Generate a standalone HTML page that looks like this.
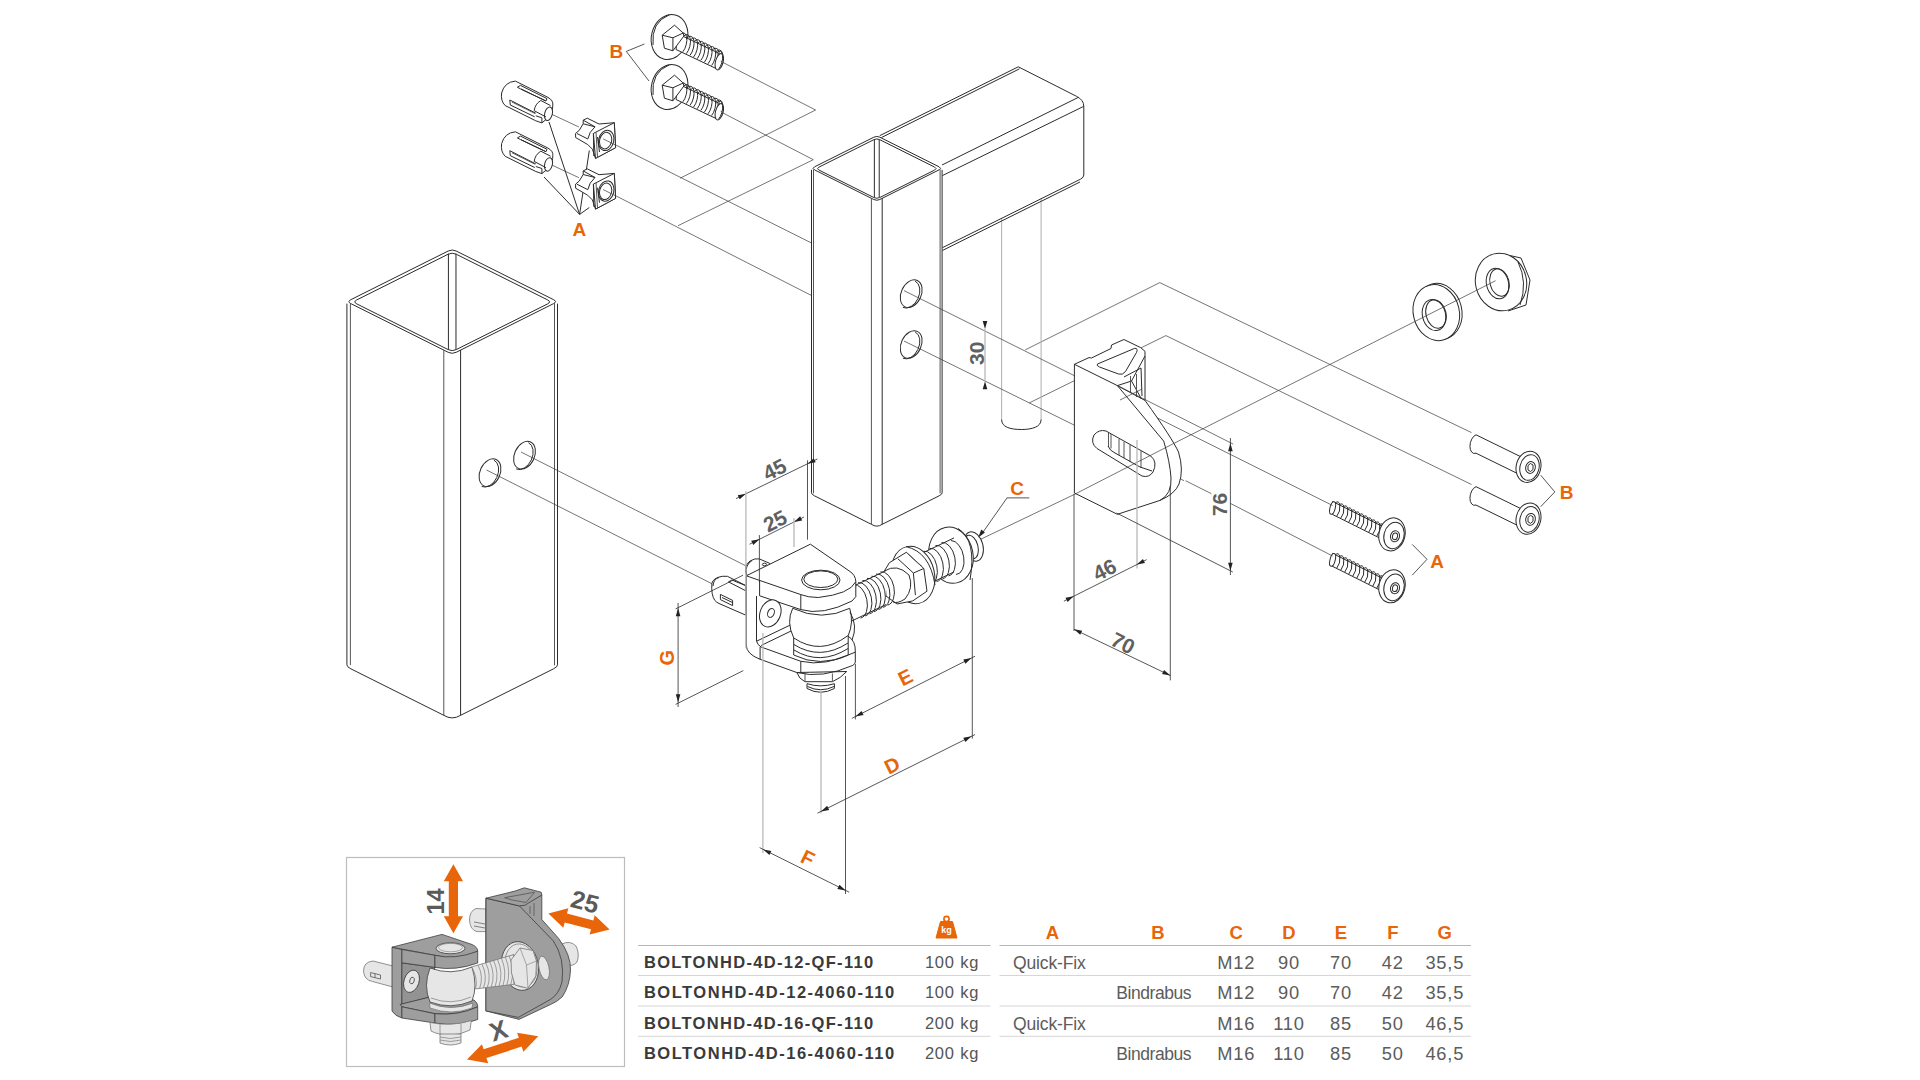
<!DOCTYPE html>
<html><head><meta charset="utf-8"><style>
html,body{margin:0;padding:0;background:#fff;width:1920px;height:1080px;overflow:hidden}
svg{display:block;font-family:"Liberation Sans",sans-serif}
.m{stroke:#2b2b2b;stroke-width:1;fill:none}
.g{stroke:#555;stroke-width:1;fill:none}
.t{stroke:#3a3a3a;stroke-width:0.7;fill:none}
.lg{stroke:#b8b8b8;stroke-width:1.3;fill:none}
.dm{stroke:#2b2b2b;stroke-width:0.8;fill:none}
.wf{fill:#fff;stroke:none}
.wf2{fill:#fff;stroke:#2b2b2b;stroke-width:1}
.wm{fill:#fff;stroke:#2b2b2b;stroke-width:1}
</style></head><body>
<svg width="1920" height="1080" viewBox="0 0 1920 1080">
<line class="t" x1="552" y1="114.4" x2="578.9" y2="127"/>
<line class="t" x1="552" y1="165.1" x2="578.9" y2="177.7"/>
<line class="t" x1="607.4" y1="140.8" x2="811.5" y2="243"/>
<line class="t" x1="607.4" y1="191.5" x2="811.5" y2="295.5"/>
<line class="t" x1="720.7" y1="61.3" x2="815.6" y2="110"/>
<line class="t" x1="815.6" y1="110" x2="680.2" y2="178.2"/>
<line class="t" x1="720.7" y1="111.8" x2="813.3" y2="159.7"/>
<line class="t" x1="813.3" y1="159.7" x2="678" y2="225.7"/>
<line class="t" x1="1074" y1="375.5" x2="1156.9" y2="417.7"/>
<line class="t" x1="1074" y1="425" x2="1184" y2="480.7"/>
<line class="t" x1="1025.2" y1="349.9" x2="1159.8" y2="282.6"/>
<line class="t" x1="1159.8" y1="282.6" x2="1471.5" y2="432.6"/>
<line class="t" x1="1029.3" y1="402.9" x2="1165.9" y2="335.6"/>
<line class="t" x1="1165.9" y1="335.6" x2="1471.5" y2="484.5"/>
<line class="t" x1="980.4" y1="539.4" x2="1074" y2="494.6"/>
<polygon class="wf" points="346.9,301.65 452.2,249 557.5,301.65 557.5,666.85 452.2,719.5 346.9,666.85"/>
<path class="m" d="M456.2,251 L553.5,299.65 Q557.5,301.65 553.5,303.65 L456.2,352.3 Q452.2,354.3 448.2,352.3 L350.9,303.65 Q346.9,301.65 350.9,299.65 L448.2,251 Q452.2,249 456.2,251 Z"/>
<path class="m" d="M456.2,254.2 L547.6,299.9 Q551.6,301.9 547.6,303.9 L456.2,349.6 Q452.2,351.6 448.2,349.6 L356.8,303.9 Q352.8,301.9 356.8,299.9 L448.2,254.2 Q452.2,252.2 456.2,254.2 Z"/>
<line class="m" x1="448.42" y1="253.7" x2="448.42" y2="349.6"/>
<line class="m" x1="455.98" y1="253.7" x2="455.98" y2="349.6"/>
<line class="g" x1="443.8" y1="350.1" x2="443.8" y2="715.3"/>
<line class="m" x1="460.6" y1="350.1" x2="460.6" y2="715.3"/>
<line class="m" x1="346.9" y1="303.65" x2="346.9" y2="664.85"/>
<line class="g" x1="350.4" y1="303.4" x2="350.4" y2="665.1"/>
<line class="m" x1="557.5" y1="303.65" x2="557.5" y2="664.85"/>
<line class="g" x1="554.5" y1="303.15" x2="554.5" y2="665.35"/>
<path class="m" d="M346.9,664.85 Q346.9,666.85 350.9,668.85 L443.8,715.3 Q452.2,720.5 460.6,715.3 L553.5,668.85 Q557.5,666.85 557.5,664.85"/>
<ellipse class="wf2" cx="490" cy="472.7" rx="10" ry="14.5" transform="rotate(25 490 472.7)"/>
<path class="m" d="M493.93,460.16 A10,14.5 25 0 1 481.67,486.44"/>
<ellipse class="wf2" cx="524.5" cy="455.2" rx="10" ry="14.5" transform="rotate(25 524.5 455.2)"/>
<path class="m" d="M528.43,442.66 A10,14.5 25 0 1 516.17,468.94"/>
<path d="M1001.6,218 L1001.6,420 M1041.1,198 L1041.1,420" stroke="#b5b5b5" stroke-width="1.1" fill="none"/>
<path class="m" d="M1001.6,419.6 C1001.6,427 1010,429.5 1021.3,429.5 C1032,429.5 1041.1,427 1041.1,419.6"/>
<polygon class="wf" points="879.7,135.7 1018.3,66.8 1079.1,97.7 1083.8,106.3 1083.8,177.5 942.4,247.7 942,168"/>
<path class="m" d="M879.7,135.7 L1018.3,66.8 L1076.5,96.3 Q1083.8,100 1083.8,106.3 L1083.8,175 Q1083.8,177.5 1080.5,179.2 L942.4,247.7"/>
<line class="m" x1="881.5" y1="137.5" x2="1019.5" y2="68.8"/>
<line class="m" x1="942" y1="165" x2="1078.5" y2="97.3"/>
<line class="m" x1="942.4" y1="175.6" x2="1083.8" y2="106.3"/>
<line class="m" x1="942.4" y1="250.5" x2="1080" y2="182"/>
<polygon class="wf" points="811.5,168.35 876.8,135.7 942.1,168.35 942.1,494.35 876.8,527 811.5,494.35"/>
<path class="m" d="M879.8,137.2 L939.1,166.85 Q942.1,168.35 939.1,169.85 L879.8,199.5 Q876.8,201 873.8,199.5 L814.5,169.85 Q811.5,168.35 814.5,166.85 L873.8,137.2 Q876.8,135.7 879.8,137.2 Z"/>
<path class="m" d="M879.8,139.7 L934.6,167.1 Q937.6,168.6 934.6,170.1 L879.8,197.5 Q876.8,199 873.8,197.5 L819,170.1 Q816,168.6 819,167.1 L873.8,139.7 Q876.8,138.2 879.8,139.7 Z"/>
<line class="m" x1="874.37" y1="139.7" x2="874.37" y2="197"/>
<line class="m" x1="879.23" y1="139.7" x2="879.23" y2="197"/>
<line class="g" x1="871.4" y1="198.3" x2="871.4" y2="524.3"/>
<line class="m" x1="882.2" y1="198.3" x2="882.2" y2="524.3"/>
<line class="m" x1="811.5" y1="169.85" x2="811.5" y2="492.85"/>
<line class="g" x1="813.5" y1="169.35" x2="813.5" y2="493.35"/>
<line class="m" x1="942.1" y1="169.85" x2="942.1" y2="492.85"/>
<line class="g" x1="940.1" y1="169.35" x2="940.1" y2="493.35"/>
<path class="m" d="M811.5,492.85 Q811.5,494.35 814.5,495.85 L871.4,524.3 Q876.8,528 882.2,524.3 L939.1,495.85 Q942.1,494.35 942.1,492.85"/>
<ellipse class="wf2" cx="911.2" cy="293.7" rx="10" ry="14.5" transform="rotate(25 911.2 293.7)"/>
<path class="m" d="M915.13,281.16 A10,14.5 25 0 1 902.87,307.44"/>
<ellipse class="wf2" cx="911.2" cy="344.5" rx="10" ry="14.5" transform="rotate(25 911.2 344.5)"/>
<path class="m" d="M915.13,331.96 A10,14.5 25 0 1 902.87,358.24"/>
<path class="wm" d="M746.7,575.2 Q743,566 750,561 Q755,558 759.3,558.9 L769.6,563.3 L770,580 Z"/>
<path class="m" d="M746.2,574 Q745,565 752,560.5"/>
<ellipse class="m" cx="764.5" cy="564.5" rx="2.2" ry="1.3"/>
<path class="wm" d="M745.9,585.6 L727.4,576.3 L722.2,576.3 Q713,578 711.9,583.3 Q711,595 714.8,600.4 Q716,602 719,603.5 L745.9,615.2 Z"/>
<path class="m" d="M713,586 Q713.5,579 719,577.5"/>
<polyline class="m" points="728.5,581.9 731.9,580 745.6,585.6 745.6,590.7"/>
<polygon class="m" points="720.4,594.4 732.6,600.4 732.6,605.6 720.4,599.6"/>
<line class="m" x1="722" y1="597.5" x2="732.6" y2="602.6"/>
<line class="m" x1="728.5" y1="581.9" x2="745.6" y2="590.7"/>
<ellipse class="wm" cx="973.5" cy="546.5" rx="9.5" ry="15" transform="rotate(-14 973.5 546.5)"/>
<ellipse class="m" cx="971" cy="547" rx="7" ry="12" transform="rotate(-14 971 547)"/>
<ellipse class="wm" cx="951" cy="555.2" rx="22" ry="28.3" transform="rotate(-12 951 555.2)"/>
<path class="m" d="M958,528.5 Q977,540 970,580"/>
<polygon class="wf" points="918,555.2 954,537.92 954,571.92 918,589.2"/>
<line class="m" x1="918" y1="555.2" x2="954" y2="537.92"/>
<line class="m" x1="918" y1="589.2" x2="954" y2="571.92"/>
<path class="m" d="M923.47,551.25 A10,17 -12 0 1 930.53,584.51"/>
<path class="m" d="M929.47,548.37 A10,17 -12 0 1 936.53,581.63"/>
<path class="m" d="M935.47,545.49 A10,17 -12 0 1 942.53,578.75"/>
<path class="m" d="M941.47,542.61 A10,17 -12 0 1 948.53,575.87"/>
<path class="m" d="M951,540.5 A10,17 -12 0 1 956,574.5"/>
<ellipse class="wm" cx="913" cy="575" rx="21.5" ry="29" transform="rotate(-12 913 575)"/>
<path class="m" d="M906,546.6 Q930,552 935,585"/>
<polygon class="wm" points="884.3,571.1 889.4,562.7 906.3,552.3 923.8,568.5 927,591.2 912.8,600.9 897,604 886,596"/>
<polyline class="m" points="897.9,558.8 913.4,573 923.8,568.5"/>
<line class="m" x1="913.4" y1="573" x2="915.4" y2="595.1"/>
<line class="g" x1="906.3" y1="552.3" x2="922" y2="566.5"/>
<path class="m" d="M884.3,571.1 Q897,563 909,575 Q914,588 905,599 Q897,604 893,602"/>
<polygon class="wf" points="850,587.84 886,570.56 886,604.56 850,621.84"/>
<line class="m" x1="850" y1="587.84" x2="886" y2="570.56"/>
<line class="m" x1="850" y1="621.84" x2="886" y2="604.56"/>
<path class="m" d="M853.47,584.85 A10,17 -12 0 1 860.53,618.11"/>
<path class="m" d="M857.97,582.69 A10,17 -12 0 1 865.03,615.95"/>
<path class="m" d="M862.47,580.53 A10,17 -12 0 1 869.53,613.79"/>
<path class="m" d="M866.97,578.37 A10,17 -12 0 1 874.03,611.63"/>
<path class="m" d="M871.47,576.21 A10,17 -12 0 1 878.53,609.47"/>
<path class="m" d="M875.97,574.05 A10,17 -12 0 1 883.03,607.31"/>
<path class="m" d="M880.47,571.89 A10,17 -12 0 1 887.53,605.15"/>
<path class="wf" d="M746.25,575.8 L810.4,544.2 L849,570.8 Q856,576 855.8,582 L855.8,596.7 L850,612 L855.3,647 L855.3,662 Q852,667 845,669 L822,675 Q808,676 796.8,672.5 L760.1,659.3 Q746.25,654 746.25,645 Z"/>
<path class="wf" d="M759.6,595.8 L800.8,609.6 Q820,616 849,606 L849,640 L800.8,661.3 L761.1,647 L756.5,642 L756.5,596 Z"/>
<path class="m" d="M746.25,575.8 L810.4,544.2 L849,570.8 Q855.8,575 855.8,581.7 Q850,594 818.3,597.5 Q808,597.5 800.8,594.6 Z"/>
<line class="m" x1="800.8" y1="594.6" x2="800.8" y2="609.6"/>
<line class="m" x1="855.8" y1="581.7" x2="855.8" y2="596.7"/>
<path class="m" d="M759.6,595.8 L800.8,609.6 Q822.5,616 852,601 L855.8,596.7"/>
<line class="m" x1="759.6" y1="580.8" x2="759.6" y2="595.8"/>
<ellipse class="wm" cx="820.8" cy="580" rx="19.2" ry="9.8"/>
<ellipse class="m" cx="820.8" cy="579.2" rx="17" ry="8.3"/>
<line class="m" x1="746.25" y1="575.8" x2="746.25" y2="645"/>
<path class="m" d="M746.25,645 Q746.25,654 760.1,659.3"/>
<line class="m" x1="756.5" y1="596" x2="756.5" y2="641"/>
<path class="m" d="M756.5,641 Q757.5,645 761.1,647"/>
<line class="m" x1="760.1" y1="647" x2="760.1" y2="659.3"/>
<line class="m" x1="757" y1="641" x2="790.1" y2="625.1"/>
<line class="m" x1="761.1" y1="645.5" x2="791.7" y2="630.7"/>
<ellipse class="wm" cx="770.3" cy="613.4" rx="10.2" ry="14" transform="rotate(22 770.3 613.4)"/>
<ellipse class="m" cx="771" cy="612.9" rx="3.2" ry="4.6" transform="rotate(22 771 612.9)"/>
<path class="wm" d="M796.8,672.5 Q799,679 805,681.7 L832.4,681.7 Q841,678 846.7,671.5 Z"/>
<line class="g" x1="805" y1="673.5" x2="805" y2="681.7"/>
<line class="g" x1="832.4" y1="673.5" x2="832.4" y2="681.7"/>
<path class="wm" d="M807,683.7 L807,688.5 Q820.7,696 834.4,688.5 L834.4,683.7 Q820.7,688 807,683.7 Z"/>
<path class="m" d="M807.5,686.5 Q820.7,693 834,686.5"/>
<path class="wm" d="M792.7,608.3 Q786,622 793.7,637.9 L793.7,655 Q820,668 848.2,655 L848.2,635.8 Q854,622 849.7,608.3 Q822,622 792.7,608.3 Z"/>
<path class="m" d="M793.7,637.9 Q820.2,656 847.7,635.8"/>
<path class="m" d="M793.9,644.5 Q820.2,661 848,643"/>
<path class="m" d="M794,650 Q820.2,666 848.1,648.5"/>
<path class="m" d="M761.1,647 L800.8,661.3 Q825,667 855.3,652.1"/>
<path class="m" d="M847.7,635.8 Q856,641 855.3,652.1 L855.3,662"/>
<path class="m" d="M760.1,659.3 L796.8,672.5 Q822,679 852.8,665.4 Q855.3,664 855.3,662"/>
<line class="m" x1="800.8" y1="661.3" x2="800.8" y2="673"/>
<path class="m" d="M850,612 Q858,626 852,640"/>
<path class="wf" d="M1074.4,364.3 L1091.5,356.9 L1112,347.6 L1113.7,343.9 L1123.9,340.2 L1140.6,347.6 L1145,351.3 L1145,400.4 Q1172,438 1178.5,452 Q1184,470 1179,484 Q1175,494 1170,497 L1160,500.4 L1117.4,514.3 L1074.4,493 Z"/>
<path class="m" d="M1074.4,364.3 L1074.4,493 L1117.4,514.3 L1160,500.4 Q1172,494 1171,478 Q1170,462 1163.7,441.1 L1117.4,385.6 L1074.4,364.3"/>
<path class="m" d="M1074.4,364.3 L1089,357.6 L1091.5,358 L1111,348.5 L1111.5,345 L1123.9,339.5 L1140.6,347.6 L1145,351.3 L1145,400.4"/>
<line class="m" x1="1117.4" y1="385.6" x2="1131.5" y2="381"/>
<path class="m" d="M1097.5,364 L1134.5,348.4 Q1138.5,348 1136.5,352.5 L1125.5,371.5 Q1122.5,375.5 1118.5,374 L1099.5,367 Q1096,365.5 1097.5,364 Z"/>
<path class="m" d="M1124,377 L1141,368 L1142,396 M1131.5,381 L1145,356 M1131.5,381 L1141.5,399"/>
<line class="g" x1="1130.5" y1="376" x2="1130.5" y2="392"/>
<line class="g" x1="1136.5" y1="374" x2="1136.5" y2="397"/>
<path class="m" d="M1145,400.4 Q1172,438 1178.5,452 Q1184,470 1179,484 Q1175,494 1160,500.4"/>
<path class="m" d="M1117.4,385.6 L1145,400.4"/>
<path class="m" d="M1106,431 L1150.7,456 Q1158,462 1153,472 Q1149,478 1142,476 L1097,448.5 Q1090,443 1094,435 Q1099,429 1106,431 Z"/>
<path class="g" d="M1108.5,433 L1108.5,447 M1111,434 L1111,448.5 M1119,439 L1119,455 M1124,442 L1124,458 M1130,445 L1130,462 M1141,451 L1141,468"/>
<path class="m" d="M1108,446 Q1110,451 1115,453 L1140,467 L1152,471"/>
<path class="wm" d="M515.4,81.1 L548,97.4 Q553.5,100.5 552.8,105 L552.6,108 Q551.5,116.5 545.4,120 L541.9,122.9 L535.8,120.8 L505.2,105.6 Q500.5,101 501.6,93 Q504.5,82 515.4,81.1 Z"/>
<polygon class="m" points="517.4,87.2 520.5,85.4 547,98.6 546,101 520.5,88.9"/>
<line class="m" x1="521" y1="89" x2="545.5" y2="100.8"/>
<polyline class="m" points="509.8,100 535.8,113.2"/>
<polyline class="m" points="510.3,105 534.7,116.8"/>
<line class="m" x1="509.8" y1="100" x2="510.3" y2="105"/>
<line class="g" x1="512" y1="102" x2="535" y2="113.5"/>
<ellipse class="wm" cx="548.5" cy="113.7" rx="3.8" ry="6.9" transform="rotate(14 548.5 113.7)"/>
<path class="m" d="M540.8,100.5 Q535,104 534.2,110.7"/>
<line class="m" x1="540.8" y1="100.5" x2="550.5" y2="105.5"/>
<line class="m" x1="534.2" y1="110.7" x2="546" y2="117"/>
<polyline class="m" points="535.8,115.8 541.9,117.8 541.9,122.9"/>
<path class="wm" d="M515.4,131.8 L548,148.1 Q553.5,151.2 552.8,155.7 L552.6,158.7 Q551.5,167.2 545.4,170.7 L541.9,173.6 L535.8,171.5 L505.2,156.3 Q500.5,151.7 501.6,143.7 Q504.5,132.7 515.4,131.8 Z"/>
<polygon class="m" points="517.4,137.9 520.5,136.1 547,149.3 546,151.7 520.5,139.6"/>
<line class="m" x1="521" y1="139.7" x2="545.5" y2="151.5"/>
<polyline class="m" points="509.8,150.7 535.8,163.9"/>
<polyline class="m" points="510.3,155.7 534.7,167.5"/>
<line class="m" x1="509.8" y1="150.7" x2="510.3" y2="155.7"/>
<line class="g" x1="512" y1="152.7" x2="535" y2="164.2"/>
<ellipse class="wm" cx="548.5" cy="164.4" rx="3.8" ry="6.9" transform="rotate(14 548.5 164.4)"/>
<path class="m" d="M540.8,151.2 Q535,154.7 534.2,161.4"/>
<line class="m" x1="540.8" y1="151.2" x2="550.5" y2="156.2"/>
<line class="m" x1="534.2" y1="161.4" x2="546" y2="167.7"/>
<polyline class="m" points="535.8,166.5 541.9,168.5 541.9,173.6"/>
<line class="m" x1="579.6" y1="214.4" x2="549" y2="122"/>
<line class="m" x1="579.6" y1="214.4" x2="544" y2="177"/>
<line class="m" x1="579.6" y1="214.4" x2="589.3" y2="150.5"/>
<line class="m" x1="579.6" y1="214.4" x2="589.3" y2="207.5"/>
<path class="wm" d="M583.2,120.2 L587.3,118.2 L599,124 L614.3,122.7 L615.6,147.7 L595.5,158.4 L592.4,149.2 L587.8,144.6 L575.6,137.5 L575.6,133.4 L579.2,130.4 L583.2,123.8 Z"/>
<path class="m" d="M583.2,123.8 L595,126.8 Q589,132 587.8,139 L577,133.5 M595,126.8 L583.2,120.2"/>
<polygon class="wm" points="593.4,133.4 614.3,122.7 615.6,147.7 595.5,158.4"/>
<line class="g" x1="596" y1="132.2" x2="597.5" y2="157.4"/>
<line class="m" x1="593.4" y1="133.4" x2="593.8" y2="156"/>
<ellipse class="m" cx="606.2" cy="140.4" rx="7.6" ry="10.3" transform="rotate(14 606.2 140.4)"/>
<ellipse class="m" cx="605.6" cy="140.6" rx="6" ry="8.4" transform="rotate(14 605.6 140.6)"/>
<path class="m" d="M597.5,137 L599.5,152"/>
<path class="wm" d="M583.2,170.9 L587.3,168.9 L599,174.7 L614.3,173.4 L615.6,198.4 L595.5,209.1 L592.4,199.9 L587.8,195.3 L575.6,188.2 L575.6,184.1 L579.2,181.1 L583.2,174.5 Z"/>
<path class="m" d="M583.2,174.5 L595,177.5 Q589,182.7 587.8,189.7 L577,184.2 M595,177.5 L583.2,170.9"/>
<polygon class="wm" points="593.4,184.1 614.3,173.4 615.6,198.4 595.5,209.1"/>
<line class="g" x1="596" y1="182.9" x2="597.5" y2="208.1"/>
<line class="m" x1="593.4" y1="184.1" x2="593.8" y2="206.7"/>
<ellipse class="m" cx="606.2" cy="191.1" rx="7.6" ry="10.3" transform="rotate(14 606.2 191.1)"/>
<ellipse class="m" cx="605.6" cy="191.3" rx="6" ry="8.4" transform="rotate(14 605.6 191.3)"/>
<path class="m" d="M597.5,187.7 L599.5,202.7"/>
<ellipse class="wm" cx="669.5" cy="37" rx="18" ry="22.8" transform="rotate(15 669.5 37)"/>
<path class="m" d="M653,45 Q651,22 669,15"/>
<path class="wm" d="M678,33.85 L718,52.85 L718,69.45 L676,49.5 Z"/>
<path class="m" d="M679.2,35.28 A4,8.3 15 0 1 682.8,51.88"/>
<path class="m" d="M682.8,36.99 A4,8.3 15 0 1 686.4,53.59"/>
<path class="m" d="M686.4,38.7 A4,8.3 15 0 1 690,55.3"/>
<path class="m" d="M690,40.4 A4,8.3 15 0 1 693.6,57"/>
<path class="m" d="M693.6,42.11 A4,8.3 15 0 1 697.2,58.71"/>
<path class="m" d="M697.2,43.83 A4,8.3 15 0 1 700.8,60.42"/>
<path class="m" d="M700.8,45.54 A4,8.3 15 0 1 704.4,62.14"/>
<path class="m" d="M704.4,47.25 A4,8.3 15 0 1 708,63.85"/>
<path class="m" d="M708,48.95 A4,8.3 15 0 1 711.6,65.55"/>
<path class="m" d="M711.6,50.66 A4,8.3 15 0 1 715.2,67.26"/>
<path class="m" d="M715.2,52.38 A4,8.3 15 0 1 718.8,68.98"/>
<ellipse class="wm" cx="719.3" cy="61.77" rx="3.8" ry="8.4" transform="rotate(15 719.3 61.77)"/>
<path class="m" d="M716.5,52.94 A3.4,7.6 15 0 1 718.5,69.19"/>
<polygon class="wm" points="662.2,35.2 674.5,25.2 683.2,33 683.9,36 672.9,50.8 664.4,48.2"/>
<line class="m" x1="662.2" y1="35.2" x2="672.9" y2="37.8"/>
<line class="m" x1="672.9" y1="37.8" x2="683.2" y2="33"/>
<line class="m" x1="672.9" y1="37.8" x2="672.9" y2="50.8"/>
<ellipse class="wm" cx="669.5" cy="87" rx="18" ry="22.8" transform="rotate(15 669.5 87)"/>
<path class="m" d="M653,95 Q651,72 669,65"/>
<path class="wm" d="M678,83.85 L718,102.85 L718,119.45 L676,99.5 Z"/>
<path class="m" d="M679.2,85.28 A4,8.3 15 0 1 682.8,101.88"/>
<path class="m" d="M682.8,86.99 A4,8.3 15 0 1 686.4,103.59"/>
<path class="m" d="M686.4,88.7 A4,8.3 15 0 1 690,105.3"/>
<path class="m" d="M690,90.4 A4,8.3 15 0 1 693.6,107"/>
<path class="m" d="M693.6,92.11 A4,8.3 15 0 1 697.2,108.71"/>
<path class="m" d="M697.2,93.83 A4,8.3 15 0 1 700.8,110.42"/>
<path class="m" d="M700.8,95.54 A4,8.3 15 0 1 704.4,112.14"/>
<path class="m" d="M704.4,97.25 A4,8.3 15 0 1 708,113.85"/>
<path class="m" d="M708,98.95 A4,8.3 15 0 1 711.6,115.55"/>
<path class="m" d="M711.6,100.66 A4,8.3 15 0 1 715.2,117.26"/>
<path class="m" d="M715.2,102.38 A4,8.3 15 0 1 718.8,118.98"/>
<ellipse class="wm" cx="719.3" cy="111.77" rx="3.8" ry="8.4" transform="rotate(15 719.3 111.77)"/>
<path class="m" d="M716.5,102.94 A3.4,7.6 15 0 1 718.5,119.19"/>
<polygon class="wm" points="662.2,85.2 674.5,75.2 683.2,83 683.9,86 672.9,100.8 664.4,98.2"/>
<line class="m" x1="662.2" y1="85.2" x2="672.9" y2="87.8"/>
<line class="m" x1="672.9" y1="87.8" x2="683.2" y2="83"/>
<line class="m" x1="672.9" y1="87.8" x2="672.9" y2="100.8"/>
<path class="wm" d="M1503,254 L1521,258 L1530,280 L1526,305 L1508,311"/>
<ellipse class="wm" cx="1501" cy="282" rx="25.5" ry="29" transform="rotate(-14 1501 282)"/>
<path class="m" d="M1518,262 Q1528,282 1520,305"/>
<ellipse class="m" cx="1497.5" cy="283.5" rx="11" ry="15.5" transform="rotate(-14 1497.5 283.5)"/>
<ellipse class="m" cx="1499.5" cy="282.5" rx="9.5" ry="14" transform="rotate(-14 1499.5 282.5)"/>
<ellipse class="wm" cx="1438.8" cy="311.4" rx="23" ry="28.3" transform="rotate(-14 1438.8 311.4)"/>
<ellipse class="wm" cx="1436.3" cy="312.6" rx="23" ry="28.3" transform="rotate(-14 1436.3 312.6)"/>
<ellipse class="m" cx="1434" cy="315" rx="11.5" ry="15.8" transform="rotate(-14 1434 315)"/>
<ellipse class="m" cx="1436" cy="314" rx="10" ry="14.5" transform="rotate(-14 1436 314)"/>
<line class="t" x1="1173.3" y1="443.7" x2="1495.6" y2="280.7"/>
<path class="wm" d="M1332.6,501.5 L1387,528.7 L1387,541.7 L1332.6,514.5 Z"/>
<ellipse class="wm" cx="1332.6" cy="508" rx="2.6" ry="6.5" transform="rotate(14 1332.6 508)"/>
<path class="m" d="M1335.2,503.3 A2.8,6.5 14 0 1 1336.8,516.1"/>
<path class="m" d="M1339.2,505.3 A2.8,6.5 14 0 1 1340.8,518.1"/>
<path class="m" d="M1343.2,507.3 A2.8,6.5 14 0 1 1344.8,520.1"/>
<path class="m" d="M1347.2,509.3 A2.8,6.5 14 0 1 1348.8,522.1"/>
<path class="m" d="M1351.2,511.3 A2.8,6.5 14 0 1 1352.8,524.1"/>
<path class="m" d="M1355.2,513.3 A2.8,6.5 14 0 1 1356.8,526.1"/>
<path class="m" d="M1359.2,515.3 A2.8,6.5 14 0 1 1360.8,528.1"/>
<path class="m" d="M1363.2,517.3 A2.8,6.5 14 0 1 1364.8,530.1"/>
<path class="m" d="M1367.2,519.3 A2.8,6.5 14 0 1 1368.8,532.1"/>
<path class="m" d="M1371.2,521.3 A2.8,6.5 14 0 1 1372.8,534.1"/>
<path class="m" d="M1375.2,523.3 A2.8,6.5 14 0 1 1376.8,536.1"/>
<path class="m" d="M1379.2,525.3 A2.8,6.5 14 0 1 1380.8,538.1"/>
<ellipse class="wm" cx="1392" cy="534.4" rx="13" ry="16.7" transform="rotate(14 1392 534.4)"/>
<ellipse class="m" cx="1394" cy="535.5" rx="10" ry="13.5" transform="rotate(14 1394 535.5)"/>
<ellipse class="m" cx="1395" cy="536.3" rx="4.5" ry="5.6" transform="rotate(14 1395 536.3)"/>
<ellipse class="m" cx="1395" cy="536.3" rx="2.5" ry="3.4" transform="rotate(14 1395 536.3)"/>
<path class="wm" d="M1332.6,553.4 L1387,580.6 L1387,593.6 L1332.6,566.4 Z"/>
<ellipse class="wm" cx="1332.6" cy="559.9" rx="2.6" ry="6.5" transform="rotate(14 1332.6 559.9)"/>
<path class="m" d="M1335.2,555.2 A2.8,6.5 14 0 1 1336.8,568"/>
<path class="m" d="M1339.2,557.2 A2.8,6.5 14 0 1 1340.8,570"/>
<path class="m" d="M1343.2,559.2 A2.8,6.5 14 0 1 1344.8,572"/>
<path class="m" d="M1347.2,561.2 A2.8,6.5 14 0 1 1348.8,574"/>
<path class="m" d="M1351.2,563.2 A2.8,6.5 14 0 1 1352.8,576"/>
<path class="m" d="M1355.2,565.2 A2.8,6.5 14 0 1 1356.8,578"/>
<path class="m" d="M1359.2,567.2 A2.8,6.5 14 0 1 1360.8,580"/>
<path class="m" d="M1363.2,569.2 A2.8,6.5 14 0 1 1364.8,582"/>
<path class="m" d="M1367.2,571.2 A2.8,6.5 14 0 1 1368.8,584"/>
<path class="m" d="M1371.2,573.2 A2.8,6.5 14 0 1 1372.8,586"/>
<path class="m" d="M1375.2,575.2 A2.8,6.5 14 0 1 1376.8,588"/>
<path class="m" d="M1379.2,577.2 A2.8,6.5 14 0 1 1380.8,590"/>
<ellipse class="wm" cx="1392" cy="586.3" rx="13" ry="16.7" transform="rotate(14 1392 586.3)"/>
<ellipse class="m" cx="1394" cy="587.4" rx="10" ry="13.5" transform="rotate(14 1394 587.4)"/>
<ellipse class="m" cx="1395" cy="588.2" rx="4.5" ry="5.6" transform="rotate(14 1395 588.2)"/>
<ellipse class="m" cx="1395" cy="588.2" rx="2.5" ry="3.4" transform="rotate(14 1395 588.2)"/>
<path class="wm" d="M1476,434.81 L1525,458.81 L1522,475.75 L1476,453.2 A5.5,9.2 14 0 1 1476,434.81 Z"/>
<ellipse class="wm" cx="1528.5" cy="466.8" rx="12.3" ry="15.8" transform="rotate(14 1528.5 466.8)"/>
<ellipse class="m" cx="1529.5" cy="467.5" rx="9.5" ry="13" transform="rotate(14 1529.5 467.5)"/>
<ellipse class="m" cx="1530.5" cy="467.5" rx="4.8" ry="6" transform="rotate(14 1530.5 467.5)"/>
<polygon class="m" points="1530.5,463.5 1533,465 1533,469.5 1530.5,471.5 1528,470 1528,465.5"/>
<path class="wm" d="M1476,486.66 L1525,510.67 L1522,527.6 L1476,505.06 A5.5,9.2 14 0 1 1476,486.66 Z"/>
<ellipse class="wm" cx="1528.5" cy="518.65" rx="12.3" ry="15.8" transform="rotate(14 1528.5 518.65)"/>
<ellipse class="m" cx="1529.5" cy="519.35" rx="9.5" ry="13" transform="rotate(14 1529.5 519.35)"/>
<ellipse class="m" cx="1530.5" cy="519.35" rx="4.8" ry="6" transform="rotate(14 1530.5 519.35)"/>
<polygon class="m" points="1530.5,515.35 1533,516.85 1533,521.35 1530.5,523.35 1528,521.85 1528,517.35"/>
<line class="t" x1="603" y1="138.8" x2="616" y2="145.3"/>
<line class="t" x1="603" y1="189.5" x2="616" y2="196"/>
<line class="t" x1="720.7" y1="61.3" x2="723" y2="62.5"/>
<line class="t" x1="720.7" y1="111.3" x2="723" y2="112.5"/>
<line class="t" x1="486.5" y1="470" x2="711.9" y2="583.7"/>
<line class="t" x1="521" y1="452" x2="745.9" y2="565.9"/>
<line class="t" x1="904" y1="290.6" x2="1074" y2="375.5"/>
<line class="t" x1="1156.9" y1="417.7" x2="1332.6" y2="505.5"/>
<line class="t" x1="1117.4" y1="385.6" x2="1233.2" y2="444.1"/>
<line class="t" x1="904" y1="341" x2="1074" y2="425"/>
<line class="t" x1="1185.5" y1="480.7" x2="1211.4" y2="493.7"/>
<line class="t" x1="1230.4" y1="503.4" x2="1332.6" y2="556"/>
<line class="t" x1="1074" y1="494.6" x2="1173.3" y2="443.7"/>
<line class="t" x1="1120" y1="400" x2="1142" y2="389"/>
<line class="dm" x1="736.01" y1="498.62" x2="817.39" y2="458.98"/>
<polygon fill="#222" points="745.9,493.8 739.71,499.37 737.7,495.23"/>
<polygon fill="#222" points="807.5,463.8 813.69,458.23 815.7,462.37"/>
<line class="lg" x1="745.9" y1="491.3" x2="745.9" y2="648"/>
<line class="dm" x1="807.5" y1="460.3" x2="807.5" y2="539.7"/>
<text x="774.5" y="469.4" font-size="21" fill="#606060" text-anchor="middle" font-weight="bold" transform="rotate(-26.5 774.5 469.4)" dominant-baseline="central">45</text>
<line class="dm" x1="749.56" y1="544.22" x2="803.84" y2="517.08"/>
<polygon fill="#222" points="759.4,539.3 753.27,544.93 751.22,540.82"/>
<polygon fill="#222" points="794,522 800.13,516.37 802.18,520.48"/>
<line class="dm" x1="759.4" y1="535.1" x2="759.4" y2="582"/>
<line class="lg" x1="794" y1="518.3" x2="794" y2="546.9"/>
<text x="775" y="520.9" font-size="21" fill="#606060" text-anchor="middle" font-weight="bold" transform="rotate(-26.5 775 520.9)" dominant-baseline="central">25</text>
<line class="lg" x1="985" y1="328.9" x2="985" y2="381.3"/>
<polygon fill="#222" points="985,328.9 982.7,320.9 987.3,320.9"/>
<polygon fill="#222" points="985,381.3 987.3,389.3 982.7,389.3"/>
<text x="976.5" y="353.3" font-size="21" fill="#606060" text-anchor="middle" font-weight="bold" transform="rotate(-90 976.5 353.3)" dominant-baseline="central">30</text>
<line class="dm" x1="678.1" y1="603" x2="678.1" y2="707"/>
<polygon fill="#222" points="678.1,608.3 680.4,616.3 675.8,616.3"/>
<polygon fill="#222" points="678.1,702.2 675.8,694.2 680.4,694.2"/>
<line class="dm" x1="675.6" y1="608.9" x2="743" y2="575.2"/>
<line class="dm" x1="675.6" y1="704.4" x2="743.3" y2="670.6"/>
<text x="667.2" y="657.8" font-size="20" fill="#e8650a" text-anchor="middle" font-weight="bold" transform="rotate(-90 667.2 657.8)" dominant-baseline="central">G</text>
<line class="lg" x1="762.9" y1="633" x2="762.9" y2="853"/>
<line class="g" x1="845.5" y1="676" x2="845.5" y2="894"/>
<line class="dm" x1="759.62" y1="847.62" x2="849.18" y2="892.18"/>
<polygon fill="#222" points="763.2,849.4 771.39,850.9 769.34,855.02"/>
<polygon fill="#222" points="845.6,890.4 837.41,888.9 839.46,884.78"/>
<text x="807.8" y="857.9" font-size="20" fill="#e8650a" text-anchor="middle" font-weight="bold" transform="rotate(26.5 807.8 857.9)" dominant-baseline="central">F</text>
<line class="lg" x1="821" y1="691.8" x2="821" y2="813.3"/>
<line class="dm" x1="972.3" y1="578" x2="972.3" y2="738.7"/>
<line class="dm" x1="817.42" y1="813.19" x2="975.08" y2="734.51"/>
<polygon fill="#222" points="821,811.4 827.13,805.77 829.19,809.89"/>
<polygon fill="#222" points="971.5,736.3 965.37,741.93 963.31,737.81"/>
<text x="892" y="765.2" font-size="20" fill="#e8650a" text-anchor="middle" font-weight="bold" transform="rotate(-26.5 892 765.2)" dominant-baseline="central">D</text>
<line class="dm" x1="855.4" y1="664" x2="855.4" y2="719.4"/>
<line class="dm" x1="851.83" y1="718.4" x2="975.07" y2="656.2"/>
<polygon fill="#222" points="855.4,716.6 861.51,710.94 863.58,715.05"/>
<polygon fill="#222" points="971.5,658 965.39,663.66 963.32,659.55"/>
<text x="905.3" y="677.3" font-size="20" fill="#e8650a" text-anchor="middle" font-weight="bold" transform="rotate(-26.5 905.3 677.3)" dominant-baseline="central">E</text>
<line class="dm" x1="1074" y1="493.8" x2="1074" y2="631"/>
<line class="lg" x1="1137" y1="440" x2="1137" y2="568.4"/>
<line class="dm" x1="1063.87" y1="601.18" x2="1146.63" y2="559.67"/>
<polygon fill="#222" points="1073.7,596.25 1067.58,601.89 1065.52,597.78"/>
<polygon fill="#222" points="1136.8,564.6 1142.92,558.96 1144.98,563.07"/>
<text x="1104.5" y="569.6" font-size="21" fill="#606060" text-anchor="middle" font-weight="bold" transform="rotate(-26.5 1104.5 569.6)" dominant-baseline="central">46</text>
<line class="dm" x1="1170.3" y1="485.4" x2="1170.3" y2="680.4"/>
<line class="dm" x1="1074" y1="629.3" x2="1170.3" y2="675.5"/>
<polygon fill="#222" points="1074,629.3 1082.21,630.69 1080.22,634.83"/>
<polygon fill="#222" points="1170.3,675.5 1162.09,674.11 1164.08,669.97"/>
<text x="1123" y="643" font-size="21" fill="#606060" text-anchor="middle" font-weight="bold" transform="rotate(26.5 1123 643)" dominant-baseline="central">70</text>
<line class="dm" x1="1116.6" y1="513" x2="1232.8" y2="572"/>
<line class="dm" x1="1230.4" y1="438" x2="1230.4" y2="575"/>
<polygon fill="#222" points="1230.4,443.2 1232.7,451.2 1228.1,451.2"/>
<polygon fill="#222" points="1230.4,570.8 1228.1,562.8 1232.7,562.8"/>
<text x="1220" y="504.6" font-size="21" fill="#606060" text-anchor="middle" font-weight="bold" transform="rotate(-90 1220 504.6)" dominant-baseline="central">76</text>
<text x="579.3" y="236" font-size="19" fill="#e8650a" text-anchor="middle" font-weight="bold">A</text>
<text x="616.4" y="57.9" font-size="19" fill="#e8650a" text-anchor="middle" font-weight="bold">B</text>
<polyline class="dm" points="644.4,44 626.3,51.4 649,81"/>
<text x="1437" y="567.8" font-size="19" fill="#e8650a" text-anchor="middle" font-weight="bold">A</text>
<polyline class="dm" points="1412.2,544.4 1427,559.3 1412.2,575.2"/>
<text x="1566.7" y="498.5" font-size="19" fill="#e8650a" text-anchor="middle" font-weight="bold">B</text>
<polyline class="dm" points="1540.7,475.2 1554.8,491.9 1540.7,506.7"/>
<text x="1017" y="494.6" font-size="19" fill="#e8650a" text-anchor="middle" font-weight="bold">C</text>
<polyline class="dm" points="1029.3,497.9 1007,497.9 981,535"/>
<polygon fill="#222" points="978.3,537.4 981.26,529.62 984.94,532.38"/>
<rect x="346.5" y="857.5" width="278" height="209" fill="none" stroke="#bdbdbd" stroke-width="1.2"/>
<path d="M486,909 L476,908.5 Q469.5,911 469.5,920 Q470,930 477,931.6 L486.5,931.6 Z" fill="#e6e6e6" stroke="#777" stroke-width="0.8" stroke-linejoin="round"/>
<path d="M474,922 L485,924 M474,926 L485,928" stroke="#666" stroke-width="0.8"/>
<path d="M562,944 Q570,940 576,946 Q580,954 577,962 Q573,967 565,965 Z" fill="#e6e6e6" stroke="#777" stroke-width="0.8" stroke-linejoin="round"/>
<path d="M393,966 L373,961 Q363.5,962 363.5,971 Q364,980 372.5,981.5 L393,987 Z" fill="#e6e6e6" stroke="#777" stroke-width="0.8" stroke-linejoin="round"/>
<path d="M370.6,972.6 L380.5,975 L380.5,979 L370.6,976.6 Z M375,973.7 L375,977.7" fill="none" stroke="#555" stroke-width="0.8"/>
<path d="M392,947.2 L401.9,949.5 L401.9,1018 Q395,1016 392,1011 Z" fill="#9e9e9e" stroke="#3c3c3c" stroke-width="0.8" stroke-linejoin="round"/>
<path d="M401.9,962.8 L434.9,967.4 L430,997 L401.9,1004.4 Z" fill="#939393" stroke="#3c3c3c" stroke-width="0.8" stroke-linejoin="round"/>
<path d="M392,947.2 L442,934.4 L472,944.5 Q478,947.5 477.7,951.2 Q468,958 450,958.5 L434.9,955.3 Z" fill="#9e9e9e" stroke="#3c3c3c" stroke-width="0.8" stroke-linejoin="round"/>
<path d="M401.9,949.5 L434.9,955.3 L434.9,967.4 L401.9,962.8 Z" fill="#9e9e9e" stroke="#3c3c3c" stroke-width="0.8" stroke-linejoin="round"/>
<path d="M434.9,955.3 Q455,960 477.7,951.2 L477.7,963 Q456,971 434.9,967.4 Z" fill="#9e9e9e" stroke="#3c3c3c" stroke-width="0.8" stroke-linejoin="round"/>
<ellipse cx="450.5" cy="948.3" rx="14.5" ry="5.5" fill="#e6e6e6" stroke="#3c3c3c" stroke-width="0.8"/>
<ellipse cx="450.5" cy="947.6" rx="12" ry="4.2" fill="none" stroke="#888" stroke-width="0.7"/>
<ellipse cx="411.5" cy="981.3" rx="7.5" ry="11.5" transform="rotate(18 411.5 981.3)" fill="#e6e6e6" stroke="#3c3c3c" stroke-width="0.8"/>
<ellipse cx="412" cy="980.5" rx="2.2" ry="3.4" transform="rotate(18 412 980.5)" fill="none" stroke="#444" stroke-width="0.8"/>
<path d="M400.1,1004.4 L430,997 L474,1000 Q478,1003 477.7,1006.8 Q458,1016 434.9,1013.7 L401.9,1006.8 Z" fill="#9e9e9e" stroke="#3c3c3c" stroke-width="0.8" stroke-linejoin="round"/>
<path d="M401.9,1006.8 L434.9,1013.7 L434.9,1023 L401.9,1018 Z" fill="#9e9e9e" stroke="#3c3c3c" stroke-width="0.8" stroke-linejoin="round"/>
<path d="M434.9,1013.7 Q458,1016 477.7,1006.8 L477.7,1019.5 Q458,1027 434.9,1023 Z" fill="#9e9e9e" stroke="#3c3c3c" stroke-width="0.8" stroke-linejoin="round"/>
<path d="M430,968 Q451,976 472,967 Q478,986 472,1001 Q451,1010 430,1002 Q423,986 430,968 Z" fill="#e6e6e6" stroke="#3c3c3c" stroke-width="0.8" stroke-linejoin="round"/>
<path d="M431,998 Q451,1006 471,997 M430,1004 Q451,1012 472,1003" fill="none" stroke="#888" stroke-width="0.8"/>
<path d="M429.5,1003 Q451,1012 473,1003 L472,1008 Q451,1016 430,1008 Z" fill="#e6e6e6" stroke="#777" stroke-width="0.8" stroke-linejoin="round"/>
<path d="M430,1022.5 Q451,1027 471.3,1020.5 L470,1030 Q460,1035 451,1035 Q438,1035 431,1031 Z" fill="#e6e6e6" stroke="#777" stroke-width="0.8" stroke-linejoin="round"/>
<path d="M440,1024.5 L440,1034.5 M461,1024 L461,1034" stroke="#888" stroke-width="0.8"/>
<path d="M440,1034 L440,1043 Q450,1047 461,1043 L461,1034 Z" fill="#e6e6e6" stroke="#777" stroke-width="0.8" stroke-linejoin="round"/>
<path d="M440,1037 Q450,1040 461,1037 M440,1040 Q450,1043 461,1040" fill="none" stroke="#888" stroke-width="0.8"/>
<path d="M519.4,905.9 L541.8,895 L541.8,919.5 L558.5,938.3 Q571,955 570.5,970 Q570,985 562.4,996.7 Q557,1002 550.7,1004.4 L519,1019.4 L485.9,1010.9 L485.9,898.2 Z" fill="#9e9e9e" stroke="#3c3c3c" stroke-width="0.8" stroke-linejoin="round"/>
<path d="M486,898.2 L519.4,905.9 L553.3,940.9 Q565,958 562,982 Q559,994 550.7,999.3 L518.3,1017.4 L485.9,1010.9 Z" fill="#9e9e9e" stroke="#3c3c3c" stroke-width="0.8" stroke-linejoin="round"/>
<path d="M486,898.2 L515,891.1 L524.3,887.8 L541.2,892.2 L541.8,895 L524.8,905.3 L519.4,905.9 Z" fill="#9e9e9e" stroke="#3c3c3c" stroke-width="0.8" stroke-linejoin="round"/>
<path d="M504.6,897.7 L534.7,892.2 L526,902.5 L512,900 Z" fill="none" stroke="#555" stroke-width="0.8"/>
<path d="M530,906 L530,914 M534,903 L534,916" fill="none" stroke="#555" stroke-width="0.8"/>
<ellipse cx="520" cy="966" rx="18.3" ry="24.6" transform="rotate(-12 520 966)" fill="#e6e6e6" stroke="#3c3c3c" stroke-width="0.8"/>
<ellipse cx="521" cy="965.5" rx="15.8" ry="21.8" transform="rotate(-12 521 965.5)" fill="none" stroke="#777" stroke-width="0.7"/>
<ellipse cx="544" cy="968" rx="5" ry="12" transform="rotate(-12 544 968)" fill="#e6e6e6" stroke="#777" stroke-width="0.8"/>
<path d="M471.7,966.9 L514,954.5 L514,984.3 L475.6,988.9 Q478,978 471.7,966.9 Z" fill="#e6e6e6" stroke="#777" stroke-width="0.8" stroke-linejoin="round"/>
<path d="M478,965.07 Q484,976.84 479.5,988.61" fill="none" stroke="#888" stroke-width="0.8"/>
<path d="M481.9,963.94 Q487.9,976.04 483.4,988.14" fill="none" stroke="#888" stroke-width="0.8"/>
<path d="M485.8,962.81 Q491.8,975.24 487.3,987.68" fill="none" stroke="#888" stroke-width="0.8"/>
<path d="M489.7,961.68 Q495.7,974.44 491.2,987.21" fill="none" stroke="#888" stroke-width="0.8"/>
<path d="M493.6,960.55 Q499.6,973.64 495.1,986.74" fill="none" stroke="#888" stroke-width="0.8"/>
<path d="M497.5,959.42 Q503.5,972.85 499,986.27" fill="none" stroke="#888" stroke-width="0.8"/>
<path d="M501.4,958.29 Q507.4,972.05 502.9,985.8" fill="none" stroke="#888" stroke-width="0.8"/>
<path d="M505.3,957.16 Q511.3,971.25 506.8,985.34" fill="none" stroke="#888" stroke-width="0.8"/>
<path d="M509.2,956.02 Q515.2,970.45 510.7,984.87" fill="none" stroke="#888" stroke-width="0.8"/>
<path d="M513.1,954.89 Q519.1,969.65 514.6,984.4" fill="none" stroke="#888" stroke-width="0.8"/>
<path d="M511,960 L520,948 L533,950.5 L536.5,961 L535.8,976 L528,988.3 L515,985 L511.5,973 Z" fill="#e6e6e6" stroke="#777" stroke-width="0.8" stroke-linejoin="round"/>
<path d="M520,948 L526.5,965 L536.5,961 M526.5,965 L528,988.3" fill="none" stroke="#888" stroke-width="0.7"/>
<polygon fill="#e8650a" points="453.4,864.3 443.8,881.3 448.8,881.3 448.8,916.2 443.8,916.2 453.4,933.2 463,916.2 458,916.2 458,881.3 463,881.3"/>
<polygon fill="#e8650a" points="548.4,913.5 563.31,927.7 564.66,922.48 591.02,929.33 589.66,934.55 609.6,929.4 594.69,915.2 593.34,920.42 566.98,913.57 568.34,908.35"/>
<polygon fill="#e8650a" points="467,1059.6 488.17,1063.2 486.49,1058.07 521.67,1046.57 523.35,1051.71 538.3,1036.3 517.13,1032.7 518.81,1037.83 483.63,1049.33 481.95,1044.19"/>
<text x="435.5" y="901.5" font-size="23.5" fill="#5a5a5a" text-anchor="middle" font-weight="bold" transform="rotate(-90 435.5 901.5)" dominant-baseline="central">14</text>
<text x="585" y="901.5" font-size="25" fill="#5a5a5a" text-anchor="middle" font-weight="bold" transform="rotate(15 585 901.5)" dominant-baseline="central">25</text>
<text x="498.4" y="1030.5" font-size="26" fill="#5e5e5e" text-anchor="middle" font-weight="bold" transform="rotate(-18 498.4 1030.5)" dominant-baseline="central">X</text>
<line x1="638" y1="945.5" x2="990.5" y2="945.5" stroke="#f3a56e" stroke-width="1.2"/>
<line x1="999.5" y1="945.5" x2="1471" y2="945.5" stroke="#f3a56e" stroke-width="1.2"/>
<line x1="638" y1="975.5" x2="990.5" y2="975.5" stroke="#d6d6d6" stroke-width="1"/>
<line x1="999.5" y1="975.5" x2="1471" y2="975.5" stroke="#d6d6d6" stroke-width="1"/>
<line x1="638" y1="1006" x2="990.5" y2="1006" stroke="#d6d6d6" stroke-width="1"/>
<line x1="999.5" y1="1006" x2="1471" y2="1006" stroke="#d6d6d6" stroke-width="1"/>
<line x1="638" y1="1036.3" x2="990.5" y2="1036.3" stroke="#d6d6d6" stroke-width="1"/>
<line x1="999.5" y1="1036.3" x2="1471" y2="1036.3" stroke="#d6d6d6" stroke-width="1"/>
<text x="643.9" y="967.8" font-weight="bold" font-size="16.5" fill="#3a3a3a" textLength="229.3" lengthAdjust="spacing">BOLTONHD-4D-12-QF-110</text>
<text x="924.9" y="967.8" font-size="16.5" fill="#555" textLength="53.5" lengthAdjust="spacing">100 kg</text>
<text x="643.9" y="998.3" font-weight="bold" font-size="16.5" fill="#3a3a3a" textLength="250.2" lengthAdjust="spacing">BOLTONHD-4D-12-4060-110</text>
<text x="924.9" y="998.3" font-size="16.5" fill="#555" textLength="53.5" lengthAdjust="spacing">100 kg</text>
<text x="643.9" y="1028.7" font-weight="bold" font-size="16.5" fill="#3a3a3a" textLength="229.3" lengthAdjust="spacing">BOLTONHD-4D-16-QF-110</text>
<text x="924.9" y="1028.7" font-size="16.5" fill="#555" textLength="53.5" lengthAdjust="spacing">200 kg</text>
<text x="643.9" y="1059.0" font-weight="bold" font-size="16.5" fill="#3a3a3a" textLength="250.2" lengthAdjust="spacing">BOLTONHD-4D-16-4060-110</text>
<text x="924.9" y="1059.0" font-size="16.5" fill="#555" textLength="53.5" lengthAdjust="spacing">200 kg</text>
<text x="1052.5" y="938.8" font-weight="bold" font-size="18.5" fill="#e8650a" text-anchor="middle">A</text>
<text x="1158" y="938.8" font-weight="bold" font-size="18.5" fill="#e8650a" text-anchor="middle">B</text>
<text x="1236.3" y="938.8" font-weight="bold" font-size="18.5" fill="#e8650a" text-anchor="middle">C</text>
<text x="1289" y="938.8" font-weight="bold" font-size="18.5" fill="#e8650a" text-anchor="middle">D</text>
<text x="1341" y="938.8" font-weight="bold" font-size="18.5" fill="#e8650a" text-anchor="middle">E</text>
<text x="1392.8" y="938.8" font-weight="bold" font-size="18.5" fill="#e8650a" text-anchor="middle">F</text>
<text x="1444.8" y="938.8" font-weight="bold" font-size="18.5" fill="#e8650a" text-anchor="middle">G</text>
<text x="1013" y="968.8" font-size="17.5" fill="#5c5c5c" textLength="72.7" lengthAdjust="spacing">Quick-Fix</text>
<text x="1236.3" y="968.8" font-size="18.3" fill="#5c5c5c" text-anchor="middle" letter-spacing="0.8">M12</text>
<text x="1289" y="968.8" font-size="18.3" fill="#5c5c5c" text-anchor="middle" letter-spacing="0.8">90</text>
<text x="1341" y="968.8" font-size="18.3" fill="#5c5c5c" text-anchor="middle" letter-spacing="0.8">70</text>
<text x="1392.8" y="968.8" font-size="18.3" fill="#5c5c5c" text-anchor="middle" letter-spacing="0.8">42</text>
<text x="1444.8" y="968.8" font-size="18.3" fill="#5c5c5c" text-anchor="middle" letter-spacing="0.8">35,5</text>
<text x="1116.3" y="999.3" font-size="17.5" fill="#5c5c5c" textLength="75.3" lengthAdjust="spacing">Bindrabus</text>
<text x="1236.3" y="999.3" font-size="18.3" fill="#5c5c5c" text-anchor="middle" letter-spacing="0.8">M12</text>
<text x="1289" y="999.3" font-size="18.3" fill="#5c5c5c" text-anchor="middle" letter-spacing="0.8">90</text>
<text x="1341" y="999.3" font-size="18.3" fill="#5c5c5c" text-anchor="middle" letter-spacing="0.8">70</text>
<text x="1392.8" y="999.3" font-size="18.3" fill="#5c5c5c" text-anchor="middle" letter-spacing="0.8">42</text>
<text x="1444.8" y="999.3" font-size="18.3" fill="#5c5c5c" text-anchor="middle" letter-spacing="0.8">35,5</text>
<text x="1013" y="1029.7" font-size="17.5" fill="#5c5c5c" textLength="72.7" lengthAdjust="spacing">Quick-Fix</text>
<text x="1236.3" y="1029.7" font-size="18.3" fill="#5c5c5c" text-anchor="middle" letter-spacing="0.8">M16</text>
<text x="1289" y="1029.7" font-size="18.3" fill="#5c5c5c" text-anchor="middle" letter-spacing="0.8">110</text>
<text x="1341" y="1029.7" font-size="18.3" fill="#5c5c5c" text-anchor="middle" letter-spacing="0.8">85</text>
<text x="1392.8" y="1029.7" font-size="18.3" fill="#5c5c5c" text-anchor="middle" letter-spacing="0.8">50</text>
<text x="1444.8" y="1029.7" font-size="18.3" fill="#5c5c5c" text-anchor="middle" letter-spacing="0.8">46,5</text>
<text x="1116.3" y="1060.0" font-size="17.5" fill="#5c5c5c" textLength="75.3" lengthAdjust="spacing">Bindrabus</text>
<text x="1236.3" y="1060.0" font-size="18.3" fill="#5c5c5c" text-anchor="middle" letter-spacing="0.8">M16</text>
<text x="1289" y="1060.0" font-size="18.3" fill="#5c5c5c" text-anchor="middle" letter-spacing="0.8">110</text>
<text x="1341" y="1060.0" font-size="18.3" fill="#5c5c5c" text-anchor="middle" letter-spacing="0.8">85</text>
<text x="1392.8" y="1060.0" font-size="18.3" fill="#5c5c5c" text-anchor="middle" letter-spacing="0.8">50</text>
<text x="1444.8" y="1060.0" font-size="18.3" fill="#5c5c5c" text-anchor="middle" letter-spacing="0.8">46,5</text>
<g transform="translate(946.5,927)"><circle cx="0" cy="-8" r="2.6" fill="none" stroke="#e8650a" stroke-width="1.6"/><path d="M-6,-5.5 L6,-5.5 L10.5,11 L-10.5,11 Z" fill="#e8650a" stroke="#e8650a" stroke-width="1" stroke-linejoin="round"/><text x="0" y="6" font-size="9" font-weight="bold" fill="#fff" text-anchor="middle">kg</text></g>
</svg></body></html>
